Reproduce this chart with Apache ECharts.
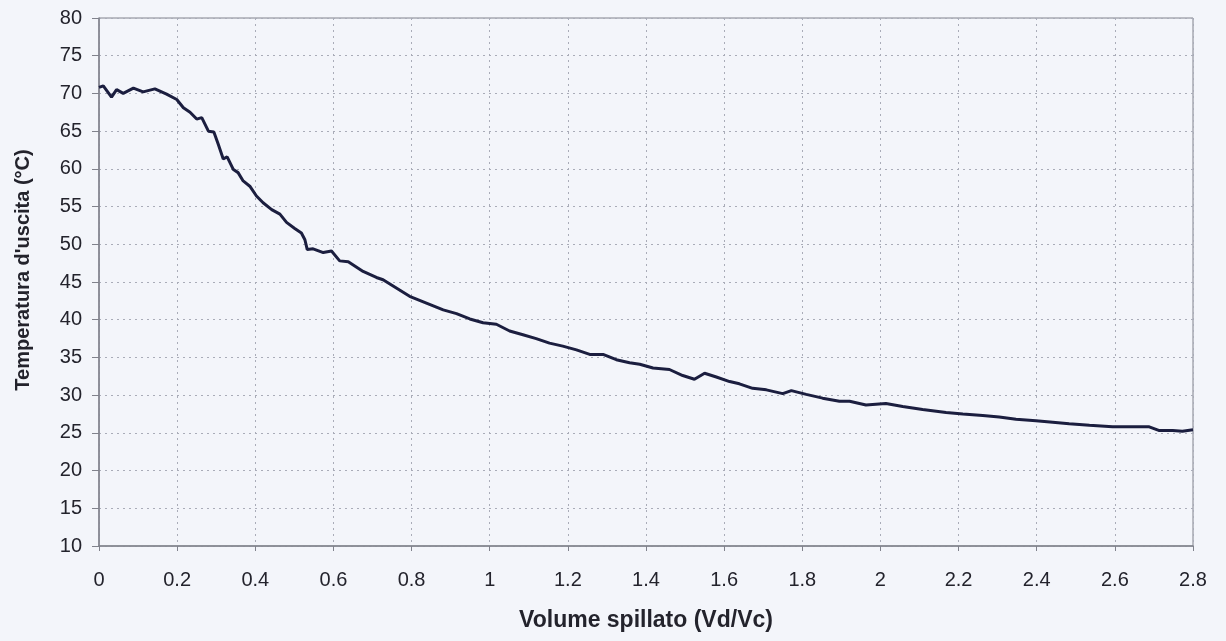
<!DOCTYPE html>
<html>
<head>
<meta charset="utf-8">
<script src="https://cdn.jsdelivr.net/npm/echarts@6/dist/echarts.min.js"></script>
<style>
  html, body { margin: 0; padding: 0; background: #f3f5fa; }
  #chart { width: 1226px; height: 641px; }
</style>
</head>
<body>
<div id="chart"></div>
<script>
// Volume drawn off (Vd/Vc) and outlet temperature (°C)
const volume = [
  0, 0.011, 0.032, 0.045, 0.062, 0.088, 0.113, 0.143, 0.173, 0.199,
  0.216, 0.233, 0.25, 0.263, 0.28, 0.294, 0.305, 0.318, 0.328, 0.344,
  0.356, 0.369, 0.386, 0.403, 0.42, 0.442, 0.463, 0.48, 0.501, 0.518,
  0.527, 0.533, 0.548, 0.574, 0.595, 0.616, 0.638, 0.676, 0.71, 0.727,
  0.761, 0.795, 0.838, 0.881, 0.915, 0.949, 0.983, 1.017, 1.051, 1.085,
  1.119, 1.153, 1.187, 1.222, 1.256, 1.29, 1.324, 1.358, 1.384, 1.418,
  1.46, 1.494, 1.524, 1.55, 1.58, 1.614, 1.639, 1.673, 1.708, 1.75,
  1.772, 1.81, 1.852, 1.895, 1.921, 1.963, 2.014, 2.057, 2.108, 2.168,
  2.211, 2.262, 2.304, 2.347, 2.398, 2.441, 2.483, 2.535, 2.594, 2.645,
  2.688, 2.714, 2.748, 2.773, 2.8
];
const temperature = [
  70.8, 71.0, 69.5, 70.5, 70.0, 70.7, 70.2, 70.6, 69.9, 69.2,
  68.1, 67.5, 66.6, 66.8, 65.0, 64.9, 63.3, 61.3, 61.6, 59.9,
  59.5, 58.4, 57.7, 56.4, 55.5, 54.6, 54.0, 52.9, 52.1, 51.5,
  50.6, 49.3, 49.4, 48.9, 49.1, 47.8, 47.7, 46.4, 45.6, 45.3,
  44.2, 43.1, 42.2, 41.3, 40.8, 40.1, 39.6, 39.4, 38.5, 38.0,
  37.5, 36.9, 36.5, 36.0, 35.4, 35.4, 34.7, 34.3, 34.1, 33.6,
  33.4, 32.6, 32.1, 32.9, 32.4, 31.8, 31.5, 30.9, 30.7, 30.2,
  30.6, 30.1, 29.6, 29.2, 29.2, 28.7, 28.9, 28.5, 28.1, 27.7,
  27.5, 27.3, 27.1, 26.8, 26.6, 26.4, 26.2, 26.0, 25.8, 25.8,
  25.8, 25.3, 25.3, 25.2, 25.4
];

const xTitle = 'Volume spillato (Vd/Vc)';
const yTitle = "Temperatura d'uscita (°C)";

const series = volume.map((v, i) => [v, temperature[i]]);

const textColor = '#23232c';
const axisColor = '#80828c';
const gridColor = '#a9acb8';
const font = 'Liberation Sans, Arial, sans-serif';

const chart = echarts.init(document.getElementById('chart'), null, { renderer: 'canvas' });
chart.setOption({
  backgroundColor: '#f3f5fa',
  animation: false,
  grid: {
    left: 99, right: 33, top: 18, bottom: 95,
    show: true, borderColor: axisColor, borderWidth: 1, backgroundColor: 'transparent'
  },
  xAxis: {
    type: 'value',
    min: 0, max: 2.8, interval: 0.2,
    name: xTitle,
    nameLocation: 'middle',
    nameGap: 63,
    nameTextStyle: { fontFamily: font, fontWeight: 'bold', fontSize: 23, color: textColor },
    axisLine: { show: true, lineStyle: { color: axisColor, width: 1.5 } },
    axisTick: { show: true, inside: false, length: 5, lineStyle: { color: axisColor } },
    axisLabel: { fontFamily: font, fontSize: 20, color: textColor, margin: 24 },
    splitLine: { show: true, lineStyle: { color: gridColor, type: [2, 4], width: 1 } }
  },
  yAxis: {
    type: 'value',
    min: 10, max: 80, interval: 5,
    name: yTitle,
    nameLocation: 'middle',
    nameGap: 66,
    nameRotate: 90,
    nameTextStyle: { fontFamily: font, fontWeight: 'bold', fontSize: 20, color: textColor, padding: [0, 0, 0, 24] },
    axisLine: { show: true, lineStyle: { color: axisColor, width: 1.5 } },
    axisTick: { show: true, inside: false, length: 7, lineStyle: { color: axisColor } },
    axisLabel: { fontFamily: font, fontSize: 20, color: textColor, margin: 17 },
    splitLine: { show: true, lineStyle: { color: gridColor, type: [2, 4], width: 1 } }
  },
  series: [{
    type: 'line',
    data: series,
    showSymbol: false,
    smooth: false,
    lineStyle: { color: '#1b1e3f', width: 3 },
    z: 3
  }]
});
</script>
</body>
</html>
